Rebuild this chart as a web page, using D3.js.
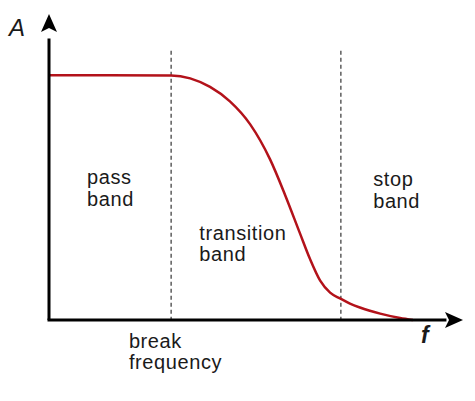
<!DOCTYPE html>
<html>
<head>
<meta charset="utf-8">
<script src="https://cdn.jsdelivr.net/npm/d3@7"></script>
<style>
  body { margin: 0; background: #fff; }
  text { font-family: "Liberation Sans", Arial, sans-serif; fill: #1a1a1a; }
</style>
</head>
<body>
<div id="chart"></div>
<script>
// frequency (arbitrary units) and amplitude
const freq = [0, 14.5, 29.5, 34.1, 38.9, 43.7, 48.6, 53.4, 57.0, 60.6, 63.0, 65.5, 67.9, 70.3, 72.7, 75.1, 80.0, 84.8, 87.9];
const amp = [1.0, 1.0, 0.999, 0.987, 0.952, 0.893, 0.799, 0.656, 0.512, 0.355, 0.251, 0.161, 0.112, 0.088, 0.067, 0.051, 0.026, 0.008, 0.0];
const markers = [29.5, 70.5]; // break frequency, start of stop band
const regionLabels = [
  { f: 9.2, a: 0.554, lines: ["pass", "band"] },
  { f: 36.3, a: 0.327, lines: ["transition", "band"] },
  { f: 78.3, a: 0.547, lines: ["stop", "band"] },
  { f: 19.3, a: -0.114, lines: ["break", "frequency"] }
];

let width = 475,
  height = 401;

let xScale = d3.scaleLinear().domain([0, 100]).range([49, 463]);
let yScale = d3.scaleLinear().domain([0, 1.25]).range([320, 14]);

let svg = d3
  .select("#chart")
  .append("svg")
  .attr("width", width)
  .attr("height", height);

// dashed band boundaries
svg
  .selectAll(".marker")
  .data(markers)
  .enter()
  .append("line")
  .attr("class", "marker")
  .attr("x1", (d) => xScale(d))
  .attr("x2", (d) => xScale(d))
  .attr("y1", yScale(1.1))
  .attr("y2", yScale(0))
  .attr("stroke", "#444")
  .attr("stroke-width", 1.3)
  .attr("stroke-dasharray", "4,3");

// response curve
let line = d3
  .line()
  .x((d, i) => xScale(freq[i]))
  .y((d, i) => yScale(amp[i]))
  .curve(d3.curveMonotoneX);

svg
  .append("path")
  .datum(freq)
  .attr("d", line)
  .attr("fill", "none")
  .attr("stroke", "#b3121a")
  .attr("stroke-width", 2.5);

// axes with arrowheads
let x0 = xScale(0),
  y0 = yScale(0);

svg
  .append("line")
  .attr("x1", x0)
  .attr("y1", y0)
  .attr("x2", x0)
  .attr("y2", yScale(1.15))
  .attr("stroke", "#000")
  .attr("stroke-width", 3);

svg
  .append("line")
  .attr("x1", x0 - 1.5)
  .attr("y1", y0)
  .attr("x2", xScale(96))
  .attr("y2", y0)
  .attr("stroke", "#000")
  .attr("stroke-width", 3);

let yTip = yScale(1.25);
svg
  .append("path")
  .attr("d", `M${x0},${yTip} L${x0 + 8},${yTip + 18} L${x0},${yTip + 14} L${x0 - 8},${yTip + 18} Z`)
  .attr("fill", "#000");

let xTip = xScale(100);
svg
  .append("path")
  .attr("d", `M${xTip},${y0} L${xTip - 18},${y0 - 8} L${xTip - 14},${y0} L${xTip - 18},${y0 + 8} Z`)
  .attr("fill", "#000");

// axis names
svg
  .append("text")
  .attr("x", 9)
  .attr("y", 36)
  .style("font-size", "24px")
  .style("font-style", "italic")
  .text("A");

svg
  .append("text")
  .attr("x", 421)
  .attr("y", 343)
  .style("font-size", "23px")
  .style("font-style", "italic")
  .style("font-weight", "bold")
  .text("f");

// region labels
let labels = svg
  .selectAll(".region")
  .data(regionLabels)
  .enter()
  .append("text")
  .attr("class", "region")
  .attr("x", (d) => xScale(d.f))
  .attr("y", (d) => yScale(d.a))
  .style("font-size", "20px")
  .style("letter-spacing", "0.6px");

labels
  .selectAll("tspan")
  .data((d) => d.lines.map((t) => ({ t: t, x: xScale(d.f) })))
  .enter()
  .append("tspan")
  .attr("x", (d) => d.x)
  .attr("dy", (d, i) => (i === 0 ? 0 : 21.5))
  .text((d) => d.t);
</script>
</body>
</html>
